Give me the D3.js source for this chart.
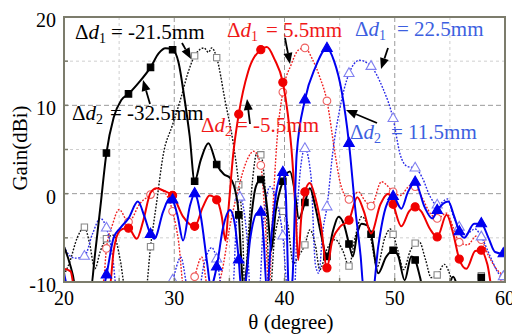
<!DOCTYPE html>
<html>
<head>
<meta charset="utf-8">
<script src="https://cdn.jsdelivr.net/npm/d3@7"></script>
<style>
  body { margin: 0; background: #fff; }
</style>
</head>
<body>
<svg id="chart" width="512" height="335" font-family="'Liberation Serif', 'Times New Roman', serif"></svg>
<script>
// axis values
const xTicks = [20, 30, 40, 50, 60];
const yTicks = [-10, 0, 10, 20];
const gridX = [25, 30, 35, 40, 45, 50, 55];
const gridY = [-5, 0, 5, 10, 15];

// [theta, gain]
const blackSolid = [[20,-6.0],[20.4,-7.4],[20.8,-9.2],[21.1,-11],[22.4,-11],[22.8,-7],[23.3,-1.5],[23.85,4.6],[24.5,8.6],[25.2,10.6],[25.85,11.3],[26.8,12.6],[27.85,14.3],[28.6,15.9],[29.2,16.45],[29.85,16.3],[30.4,14.8],[30.9,11],[31.4,6.5],[31.85,1.4],[32.4,3.8],[33.1,5.7],[33.85,3.3],[34.5,2.2],[35.05,1.8],[35.5,0.5],[35.85,-2.4],[36.1,-8],[36.3,-11],[36.6,-8],[37.0,-2.5],[37.4,0.8],[37.85,1.6],[38.2,0.5],[38.5,-2.5],[38.8,-6.4],[39.2,-2.0],[39.85,1.4],[40.5,2.5],[40.9,0.5],[41.3,-2.8],[41.85,-1.0],[42.3,0.6],[42.8,-1.5],[43.3,-4.5],[43.85,-7.1],[44.4,-4.2],[44.9,-2.6],[45.4,-3.5],[45.85,-5.7],[46.2,-7.1],[46.6,-4.5],[47.0,-3.4],[47.5,-3.6],[47.85,-4.6],[48.5,-9.0],[49.2,-7.2],[49.85,-6.4],[50.3,-7.0],[50.9,-9.8],[51.5,-7.1],[51.85,-7.5],[52.3,-9.5],[52.6,-11],[54.6,-11],[55.3,-9.4],[55.9,-11],[57.3,-11],[57.85,-9.5],[58.4,-11],[60,-11]];
const blackDotted = [[20,-9.2],[20.5,-7.8],[21.2,-5.0],[21.85,-3.8],[22.3,-5.5],[22.8,-8.5],[23.3,-6.5],[23.85,-5.1],[24.5,-4.7],[25.1,-7.5],[25.6,-11],[27.4,-11],[27.85,-6.0],[28.4,-1],[29.0,4.4],[29.85,7.8],[30.6,10.8],[31.2,13.5],[31.85,15.6],[32.3,16.3],[32.7,16.5],[33.1,16.0],[33.4,16.5],[33.85,15.4],[34.6,10.6],[35.35,5.7],[35.85,1.0],[36.2,-4],[36.4,-11],[36.7,-5],[37.1,1.5],[37.5,4.6],[37.85,4.4],[38.3,-0.5],[38.7,-11],[39.1,-5],[39.85,-2.0],[40.3,-3.5],[40.8,-7.9],[41.3,-7],[41.85,-5.8],[42.3,-4.1],[42.8,-5.8],[43.2,-8.6],[43.85,-6.3],[44.6,-5.2],[45.3,-6.5],[45.85,-8.2],[46.4,-5],[47.0,-2.6],[47.5,-3.5],[47.85,-5.2],[48.4,-8.3],[49.1,-5],[49.6,-4.0],[49.85,-4.6],[50.3,-6.5],[50.8,-8.6],[51.4,-6.5],[51.85,-5.6],[52.2,-5.4],[52.8,-7.5],[53.3,-9.5],[53.85,-9.2],[54.5,-8.0],[55.1,-9.5],[55.5,-11],[57.3,-11],[57.85,-9.3],[58.5,-11],[60,-11]];
const redSolid = [[20,-8.5],[20.6,-8.8],[21.0,-11],[24.1,-11],[24.5,-6.5],[24.9,-4.5],[25.3,-4.0],[25.85,-3.9],[26.6,-5.1],[27.2,-3],[27.85,0.1],[28.4,0.6],[29.1,0.3],[29.85,-0.2],[30.8,-2.6],[31.85,-3.7],[32.6,-1.5],[33.2,-0.2],[33.85,-0.7],[34.3,-2.5],[34.65,-5.3],[34.9,-2],[35.35,4.5],[35.85,9.0],[36.7,13.8],[37.85,16.3],[38.4,16.6],[39.1,15.2],[39.85,12.6],[40.3,9],[40.7,4],[41.0,-2],[41.25,-7.5],[41.5,-3],[41.85,0.2],[42.3,1.2],[42.8,-0.5],[43.3,-3.5],[43.85,-8.4],[44.3,-5.5],[45.0,-3.8],[45.85,-3.0],[46.6,-0.4],[47.2,-2.0],[47.85,-4.5],[48.7,-1.2],[49.4,0.0],[49.85,-1.2],[50.6,-3.7],[51.3,-2.0],[51.85,-1.5],[52.4,-2.0],[53.2,-4.0],[53.85,-4.9],[54.7,-2.4],[55.3,-4.5],[55.85,-7.4],[56.5,-8.5],[57.3,-6.5],[57.85,-6.4],[58.4,-8],[58.9,-11],[60,-11]];
const redDotted = [[20,-9.5],[20.5,-11],[23.3,-11],[23.6,-9.8],[23.85,-6.2],[24.4,-3.5],[25.0,-1.8],[25.85,-3.2],[26.9,-1.1],[27.85,-0.1],[28.4,0.6],[29.0,0.3],[29.85,-2.0],[30.4,-5.5],[30.9,-11],[31.5,-11],[31.85,-9.4],[32.5,-7.2],[33.1,-11],[33.8,-11],[34.3,-9],[35.0,-4],[35.8,0.5],[36.6,3.8],[37.2,4.8],[37.85,3.2],[38.2,-2],[38.6,-11],[38.9,-3],[39.3,5.7],[39.85,11.5],[40.6,14.6],[41.3,16.3],[41.85,16.5],[42.5,15.3],[43.2,13.2],[43.85,10.5],[44.6,4.4],[45.1,1.0],[45.85,-0.65],[46.7,0.2],[47.3,-0.8],[47.85,-1.4],[48.8,1.35],[49.4,0.8],[49.85,0.2],[50.5,-0.2],[51.4,0.9],[51.85,0.8],[52.5,-0.5],[53.2,-2.2],[53.85,-2.8],[54.7,-2.2],[55.3,-3.8],[55.85,-5.5],[56.6,-5.8],[57.4,-4.8],[57.85,-5.2],[58.5,-7],[59.2,-8.5],[59.85,-9.5],[60,-10]];
const blueSolid = [[20,-9.0],[20.5,-11],[23.5,-11],[23.85,-9.2],[24.5,-5.0],[25.1,-3.9],[25.85,-2.8],[26.7,-0.9],[27.3,-2.6],[27.85,-4.6],[28.2,-5.1],[29.0,-2.0],[29.6,-0.5],[29.85,-0.7],[30.3,-2.5],[30.8,-5.3],[31.4,-1.5],[31.85,0.0],[32.4,-2.5],[33.0,-8],[33.3,-10.5],[33.85,-8.3],[34.4,-4],[35.05,-1.85],[35.5,-3.5],[35.85,-7.5],[36.1,-11],[36.4,-10.5],[36.9,-5],[37.5,-2.2],[37.85,-2.1],[38.1,-5],[38.4,-11],[38.8,-5],[39.3,0.5],[39.85,2.4],[40.1,0.5],[40.4,-11],[40.7,-10],[41.1,4.4],[41.85,10.6],[42.8,14.3],[43.85,16.45],[44.5,15],[45.2,11.5],[45.85,5.7],[46.4,-1.5],[46.9,-7],[47.2,-11],[48.0,-11],[48.5,-6],[49.2,-1.5],[49.85,-0.3],[50.6,-1.7],[51.2,0.2],[51.85,1.3],[52.7,-1.5],[53.4,-2.8],[53.85,-1.9],[54.85,-0.9],[55.4,-2.6],[55.85,-4.3],[56.3,-5.0],[57.2,-3.4],[57.85,-3.4],[58.5,-5],[59.1,-6.6],[59.85,-6.8],[60,-6.5]];
const blueDotted = [[20,-6.0],[20.5,-7.0],[21.0,-7.3],[21.85,-7.1],[22.6,-4.5],[23.3,-2.8],[23.85,-3.9],[24.4,-7],[24.8,-11],[29.5,-11],[29.85,-9.8],[30.6,-7.2],[31.3,-11],[32.2,-11],[32.7,-8],[33.4,-6.1],[33.85,-7.4],[34.4,-11],[35.3,-11],[35.6,-4],[35.85,-0.8],[35.95,-0.4],[36.6,-5],[36.9,-11],[37.7,-11],[38.1,-3],[38.7,0.8],[39.3,-1],[39.85,-4.8],[40.3,-11],[40.9,-11],[41.2,-1],[41.85,5.1],[42.4,2],[42.8,-8],[43.1,-9],[43.5,-4],[43.85,-1.5],[44.4,4.9],[45.0,9.5],[45.85,13.6],[46.8,15.1],[47.85,14.4],[48.9,12],[49.85,8.5],[50.5,4.4],[51.1,3.1],[51.85,2.9],[52.5,1.8],[53.2,-0.3],[53.85,-1.3],[54.8,-0.6],[55.3,-2.5],[55.85,-3.8],[56.4,-4.6],[57.3,-4.0],[57.85,-4.9],[58.8,-7.5],[59.4,-9],[59.85,-9.4],[60,-9.5]];

// thetas carrying a marker
const blackSolidMarks = [23.85,25.85,27.85,29.85,31.85,33.85,35.85,37.85,39.85,41.85,43.85,45.85,47.85,49.85,51.85,57.85];
const blackDottedMarks = [21.85,23.85,27.85,31.85,33.85,35.85,37.85,39.85,41.85,45.85,49.85,51.85,53.85,57.85];
const redSolidMarks = [25.85,29.85,31.85,33.85,35.85,37.85,39.85,41.85,43.85,45.85,49.85,51.85,53.85,55.85,57.85];
const redDottedMarks = [23.85,25.85,27.85,29.85,31.85,37.85,39.85,41.85,43.85,45.85,47.85,49.85,51.85,53.85,55.85,57.85,59.85];
const blueSolidMarks = [23.85,27.85,29.85,31.85,33.85,35.85,37.85,39.85,41.85,43.85,45.85,49.85,51.85,53.85,55.85,57.85,59.85];
const blueDottedMarks = [21.85,23.85,29.85,33.85,35.95,39.85,41.85,43.85,45.85,47.85,49.85,51.85,53.85,55.85,57.85,59.85];

const svg = d3.select('#chart');
const x = d3.scaleLinear().domain([20, 60]).range([64, 505]);
const y = d3.scaleLinear().domain([-10, 20]).range([282, 17]);

// grid
svg.selectAll('.gx').data(gridX).enter().append('line')
  .attr('x1', d => x(d)).attr('x2', d => x(d)).attr('y1', y(20)).attr('y2', y(-10))
  .attr('stroke', d => d % 10 === 0 ? '#9a9a9a' : '#cfcfcf')
  .attr('stroke-dasharray', d => d % 10 === 0 ? '5,3' : '3,3').attr('stroke-width', 1);
svg.selectAll('.gy').data(gridY).enter().append('line')
  .attr('y1', d => y(d)).attr('y2', d => y(d)).attr('x1', x(20)).attr('x2', x(60))
  .attr('stroke', d => d % 10 === 0 ? '#9a9a9a' : '#cfcfcf')
  .attr('stroke-dasharray', d => d % 10 === 0 ? '5,3' : '3,3').attr('stroke-width', 1);

svg.append('clipPath').attr('id', 'plot').append('rect')
  .attr('x', x(20)).attr('y', y(20)).attr('width', x(60) - x(20)).attr('height', y(-10) - y(20));

const series = [
  { data: blackDotted, marks: blackDottedMarks, color: '#111', dash: '1.8,1.5', w: 1.4, sym: d3.symbolSquare, size: 40, fill: '#fff', mstroke: '#888' },
  { data: redDotted, marks: redDottedMarks, color: '#f02020', dash: '1.8,1.5', w: 1.4, sym: d3.symbolCircle, size: 46, fill: '#fff', mstroke: '#ee6060' },
  { data: blueDotted, marks: blueDottedMarks, color: '#2a2ae8', dash: '1.8,1.5', w: 1.4, sym: d3.symbolTriangle, size: 44, fill: '#fff', mstroke: '#8080f0' },
  { data: blackSolid, marks: blackSolidMarks, color: '#000', dash: null, w: 2, sym: d3.symbolSquare, size: 42, fill: '#000', mstroke: '#000' },
  { data: redSolid, marks: redSolidMarks, color: '#f00000', dash: null, w: 2, sym: d3.symbolCircle, size: 52, fill: '#f00000', mstroke: '#f00000' },
  { data: blueSolid, marks: blueSolidMarks, color: '#0000f0', dash: null, w: 2, sym: d3.symbolTriangle, size: 48, fill: '#0000f0', mstroke: '#0000f0' }
];

const line = d3.line().x(d => x(d[0])).y(d => y(d[1])).curve(d3.curveMonotoneX);
const g = svg.append('g').attr('clip-path', 'url(#plot)');

series.forEach(s => {
  g.append('path').datum(s.data).attr('d', line)
    .attr('fill', 'none').attr('stroke', s.color).attr('stroke-width', s.w)
    .attr('stroke-dasharray', s.dash);
  const pts = s.marks.map(t => s.data.find(d => d[0] === t)).filter(d => d);
  g.selectAll(null).data(pts).enter().append('path')
    .attr('d', d3.symbol().type(s.sym).size(s.size))
    .attr('transform', d => `translate(${x(d[0])},${y(d[1])})`)
    .attr('fill', s.fill).attr('stroke', s.mstroke).attr('stroke-width', 1.1);
});

// frame and ticks
const frame = '#7c7c6c';
svg.append('rect').attr('x', x(20)).attr('y', y(20)).attr('width', x(60) - x(20)).attr('height', y(-10) - y(20))
  .attr('fill', 'none').attr('stroke', frame).attr('stroke-width', 2);
svg.selectAll('.tx').data(d3.range(25, 60, 5)).enter().append('line')
  .attr('x1', d => x(d)).attr('x2', d => x(d)).attr('y1', y(-10)).attr('y2', y(-10) - 4)
  .attr('stroke', frame).attr('stroke-width', 1.5);
svg.selectAll('.ty').data(d3.range(-5, 20, 5)).enter().append('line')
  .attr('y1', d => y(d)).attr('y2', d => y(d)).attr('x1', x(20)).attr('x2', x(20) + 4)
  .attr('stroke', frame).attr('stroke-width', 1.5);

svg.selectAll('.xl').data(xTicks).enter().append('text')
  .attr('x', d => x(d)).attr('y', 305).attr('text-anchor', 'middle')
  .attr('font-size', 20).text(d => d);
svg.selectAll('.yl').data(yTicks).enter().append('text')
  .attr('x', 56).attr('y', d => y(d) + 10).attr('text-anchor', 'end')
  .attr('font-size', 20).text(d => d);

svg.append('text').attr('x', 291).attr('y', 329).attr('text-anchor', 'middle')
  .attr('font-size', 21).text('θ (degree)');
svg.append('text').attr('transform', 'translate(27,148) rotate(-90)').attr('text-anchor', 'middle')
  .attr('font-size', 21).text('Gain(dBi)');

// annotations
const labels = [
  { x: 75, x2: 111, y: 39, sub: '1', rest: '= -21.5mm', color: '#000' },
  { x: 72, x2: 110, y: 120, sub: '2', rest: '= -32.5mm', color: '#000' },
  { x: 227, x2: 266, y: 37, sub: '1', rest: '= 5.5mm', color: '#f01818' },
  { x: 201, x2: 236, y: 132, sub: '2', rest: '= -5.5mm', color: '#f01818' },
  { x: 355, x2: 397, y: 36, sub: '1', rest: '= 22.5mm', color: '#3d5fe0' },
  { x: 350, x2: 391, y: 139, sub: '2', rest: '= 11.5mm', color: '#3d5fe0' }
];
labels.forEach(l => {
  const t = svg.append('text').attr('x', l.x).attr('y', l.y).attr('font-size', 21).attr('fill', l.color);
  t.append('tspan').text('Δ');
  t.append('tspan').attr('font-style', 'italic').text('d');
  t.append('tspan').attr('font-size', 14).attr('dy', 4).text(l.sub);
  svg.append('text').attr('x', l.x2).attr('y', l.y).attr('font-size', 21).attr('fill', l.color).text(l.rest);
});

const arrows = [
  [[150, 104], [143, 80]],
  [[182, 43], [191, 59]],
  [[285, 38], [290, 64]],
  [[250, 124], [247, 99]],
  [[388, 48], [381, 69]],
  [[377, 123], [346, 110]]
];
arrows.forEach(([a, b]) => {
  const ang = Math.atan2(b[1] - a[1], b[0] - a[0]);
  const L = 11, W = 4.5;
  const bx = b[0] - L * Math.cos(ang), by = b[1] - L * Math.sin(ang);
  svg.append('line').attr('x1', a[0]).attr('y1', a[1]).attr('x2', bx).attr('y2', by)
    .attr('stroke', '#000').attr('stroke-width', 1.8);
  svg.append('path')
    .attr('d', `M${b[0]},${b[1]}L${bx + W * Math.sin(ang)},${by - W * Math.cos(ang)}L${bx - W * Math.sin(ang)},${by + W * Math.cos(ang)}Z`)
    .attr('fill', '#000');
});
</script>
</body>
</html>
